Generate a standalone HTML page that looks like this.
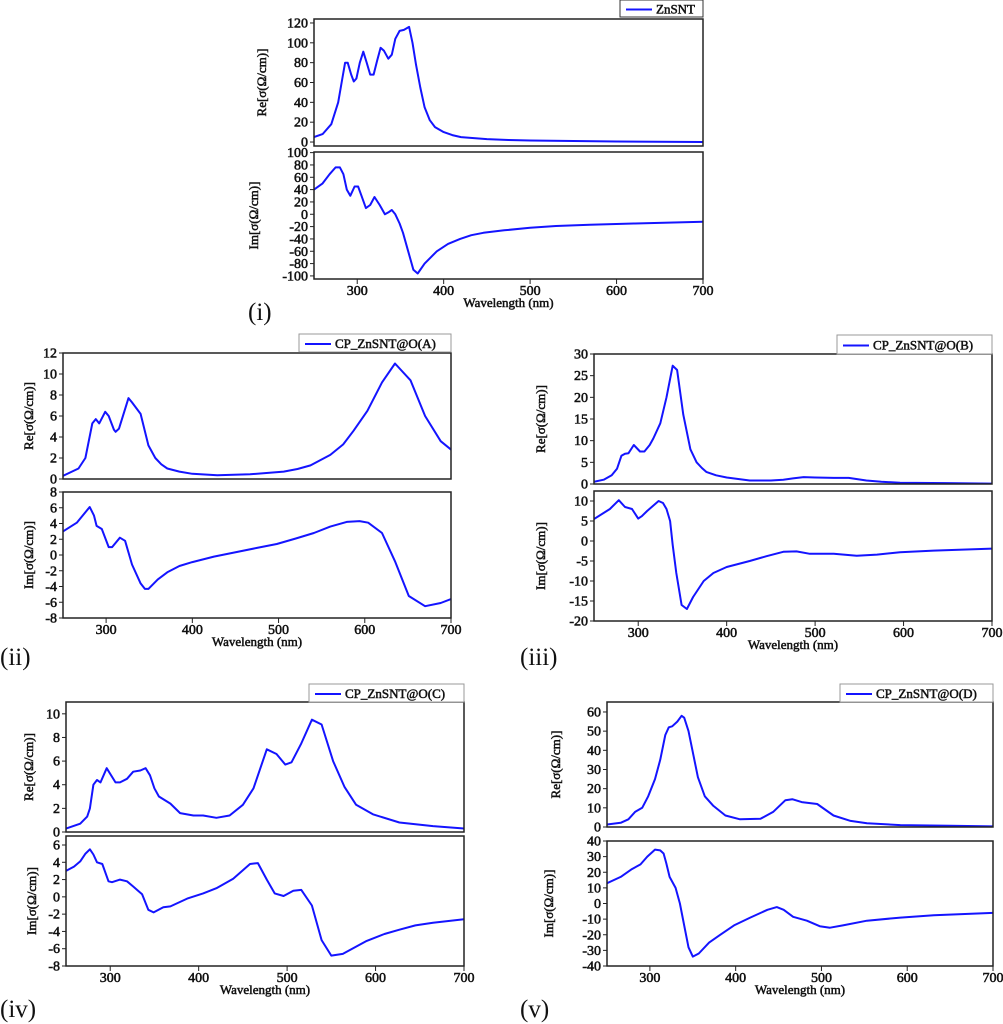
<!DOCTYPE html>
<html><head><meta charset="utf-8">
<style>
html,body{margin:0;padding:0;background:#fff;}
svg{display:block;}
svg text{font-family:"Liberation Serif","DejaVu Serif",serif;}
.tk{font-family:"Liberation Serif","DejaVu Serif",serif;font-weight:normal;font-size:14px;fill:#111;stroke:#111;stroke-width:0.55px;}
.ttl{font-family:"Liberation Serif","DejaVu Serif",serif;font-weight:normal;font-size:13px;fill:#111;stroke:#111;stroke-width:0.5px;}
.pl{font-family:"Liberation Serif","DejaVu Serif",serif;font-size:25px;fill:#111;}
</style></head>
<body>
<svg id="fig" width="1003" height="1024" viewBox="0 0 1003 1024"></svg>
<script>
// ---- data (wavelength nm, conductivity) ----
const wl_i_re=[250,260,270,278,283,286,289,293,296,299,303,307,311,315,319,323,327,331,336,340,344,349,354,360,364,368,373,378,384,390,400,410,420,435,450,475,500,550,600,700];
const val_i_re=[5,8,18,40,65,80,80,68,61,64,80,91,80,68,68,82,95,92,84,88,104,112,113,116,100,78,55,35,22,15,10,7,5,4,3,2,1.5,1,0.5,0];
const wl_i_im=[250,260,268,275,280,284,288,292,297,301,305,310,315,320,326,332,336,340,344,349,353,359,365,370,378,385,392,405,419,432,446,470,500,530,569,620,700];
const val_i_im=[40,50,65,76,76,65,40,30,45,45,30,10,15,28,15,0,3,7,0,-15,-30,-60,-90,-96,-80,-70,-60,-48,-40,-34,-30,-26,-22,-19,-17,-15,-12];
const wl_ii_re=[250,268,276,284,288,292,299,303,309,311,315,326,330,340,349,357,364,371,385,400,429,467,506,522,537,560,575,587,603,620,635,653,670,688,700];
const val_ii_re=[0.3,1,2,5.3,5.7,5.3,6.4,6,4.7,4.5,4.8,7.7,7.3,6.2,3.2,2,1.4,1,0.7,0.5,0.35,0.45,0.7,0.95,1.3,2.3,3.3,4.6,6.5,9.2,11,9.4,6,3.6,2.8];
const wl_ii_im=[250,266,281,286,289,295,303,307,316,322,330,340,345,349,360,371,385,400,425,448,475,498,520,541,560,579,594,604,620,635,651,670,688,700];
const val_ii_im=[3,4.1,6.1,5,3.7,3.3,1,1,2.2,1.8,-1.2,-3.6,-4.3,-4.3,-3.1,-2.2,-1.4,-0.9,-0.2,0.3,0.9,1.4,2.1,2.8,3.6,4.2,4.3,4.1,2.8,-0.8,-5.2,-6.5,-6.1,-5.6];
const wl_iii_re=[250,261,270,276,281,285,289,295,302,307,313,317,325,332,339,344,351,359,366,372,377,388,400,426,450,464,475,487,500,521,538,558,575,596,650,700];
const val_iii_re=[0.5,1,2,3.5,6.5,7,7.1,9,7.5,7.5,9,10.5,14,20,27.3,26.3,16,8,5,3.7,2.8,2,1.5,0.8,0.8,1,1.3,1.6,1.5,1.4,1.4,0.8,0.5,0.3,0.2,0.1];
const wl_iii_im=[250,268,278,285,293,300,304,310,323,328,332,336,339,343,349,355,362,374,385,400,426,445,464,479,494,521,547,570,596,634,700];
const val_iii_im=[5.5,8,10.2,8.5,8,5.6,6.2,7.5,10,9.5,8,5,-1,-8,-16,-17,-14,-10,-8,-6.5,-5,-3.8,-2.7,-2.6,-3.2,-3.2,-3.7,-3.4,-2.8,-2.4,-1.9];
const wl_iv_re=[250,266,274,277,281,285,289,296,306,311,319,326,334,340,345,350,355,368,379,394,405,420,435,450,462,477,488,498,505,516,528,539,552,565,578,597,627,665,700];
const val_iv_re=[0.3,0.7,1.3,2,4,4.4,4.2,5.4,4.2,4.2,4.5,5.1,5.2,5.4,4.8,3.7,3,2.4,1.6,1.4,1.4,1.2,1.4,2.3,3.7,7,6.6,5.7,5.9,7.5,9.5,9.1,6,3.8,2.3,1.5,0.8,0.5,0.3];
const wl_iv_im=[250,259,266,272,277,281,285,291,298,302,311,319,326,336,343,349,360,368,387,405,420,439,458,467,477,486,496,507,516,528,539,550,563,590,610,627,645,665,700];
const val_iv_im=[3,3.5,4.1,5,5.5,4.9,4,3.8,1.8,1.7,2,1.8,1.2,0.3,-1.5,-1.8,-1.2,-1.1,-0.2,0.4,1,2.1,3.8,3.9,2,0.4,0.1,0.7,0.8,-1,-5,-6.8,-6.6,-5.1,-4.3,-3.8,-3.3,-3,-2.6];
const wl_v_re=[250,266,275,283,291,298,306,312,318,322,326,332,337,340,345,351,356,364,374,388,405,429,444,458,466,477,495,514,534,553,592,650,700];
const val_v_re=[1.3,2.2,4,8,10,16,25,35,48,52,52.5,55,58,57,50,37,26,16,11,6,4,4.3,8,14,14.5,13,12,6,3.2,2,1,0.6,0.3];
const wl_v_im=[250,266,279,289,297,306,312,316,319,323,330,335,341,345,350,357,369,382,398,417,437,448,456,467,483,498,510,525,553,592,631,700];
const val_v_im=[13,17,22,25,30,34.5,34,32,26,17,10,0,-17,-28,-34,-32,-25,-20,-14,-9,-4,-2.3,-4,-8.5,-11,-14.5,-15.5,-14,-11,-9,-7.5,-6];
const xTicks=[300,400,500,600,700];
const yt_i_re=[0,20,40,60,80,100,120], yt_i_im=[-100,-80,-60,-40,-20,0,20,40,60,80,100];
const yt_ii_re=[0,2,4,6,8,10,12], yt_ii_im=[-8,-6,-4,-2,0,2,4,6,8];
const yt_iii_re=[0,5,10,15,20,25,30], yt_iii_im=[-20,-15,-10,-5,0,5,10];
const yt_iv_re=[0,2,4,6,8,10], yt_iv_im=[-8,-6,-4,-2,0,2,4,6];
const yt_v_re=[0,10,20,30,40,50,60], yt_v_im=[-40,-30,-20,-10,0,10,20,30,40];

// ---- layout ----
const NS="http://www.w3.org/2000/svg";
const svg=document.getElementById('fig');
function mk(tag,attrs,parent){const e=document.createElementNS(NS,tag);for(const k in attrs)e.setAttribute(k,attrs[k]);(parent||svg).appendChild(e);return e;}
const panels=[
 {id:'i',x0:314,x1:703,legend:'ZnSNT',lg:[620,0,83,17],lab:[248,320],re:{y0:19,y1:146,min:-4,max:124,wl:wl_i_re,v:val_i_re,t:yt_i_re,tx:266},im:{y0:152,y1:279,min:-105,max:101,wl:wl_i_im,v:val_i_im,t:yt_i_im,tx:258}},
 {id:'ii',x0:63,x1:451,legend:'CP_ZnSNT@O(A)',lg:[299,334,152,18],lab:[0,665],re:{y0:353,y1:479,min:0,max:12,wl:wl_ii_re,v:val_ii_re,t:yt_ii_re,tx:33},im:{y0:492,y1:618,min:-8,max:8,wl:wl_ii_im,v:val_ii_im,t:yt_ii_im,tx:33}},
 {id:'iii',x0:594,x1:992,legend:'CP_ZnSNT@O(B)',lg:[837,335,155,19],lab:[520,665],re:{y0:354,y1:484,min:0,max:30,wl:wl_iii_re,v:val_iii_re,t:yt_iii_re,tx:545},im:{y0:491,y1:621,min:-20,max:12.5,wl:wl_iii_im,v:val_iii_im,t:yt_iii_im,tx:545}},
 {id:'iv',x0:66,x1:464,legend:'CP_ZnSNT@O(C)',lg:[309,684,155,18],lab:[0,1017],re:{y0:702,y1:832,min:0,max:11,wl:wl_iv_re,v:val_iv_re,t:yt_iv_re,tx:33},im:{y0:836,y1:966,min:-8,max:7.04,wl:wl_iv_im,v:val_iv_im,t:yt_iv_im,tx:36}},
 {id:'v',x0:607,x1:993,legend:'CP_ZnSNT@O(D)',lg:[840,684,153,18],lab:[520,1017],re:{y0:702,y1:827,min:0,max:65.2,wl:wl_v_re,v:val_v_re,t:yt_v_re,tx:560},im:{y0:841,y1:966,min:-40,max:40,wl:wl_v_im,v:val_v_im,t:yt_v_im,tx:553}}
];
panels.forEach(p=>{
  const g=mk('g',{});
  
  
  const xs=w=>p.x0+(w-250)/(700-250)*(p.x1-p.x0);
  ['re','im'].forEach(k=>{
    const s=p[k];
    const ys=v=>s.y1-(v-s.min)/(s.max-s.min)*(s.y1-s.y0);
    const sg=mk('g',{},g);
    
    
    const cp='cp'+p.id+k;
    const c=mk('clipPath',{id:cp},sg);mk('rect',{x:p.x0,y:s.y0,width:p.x1-p.x0,height:s.y1-s.y0},c);
    let d='';s.wl.forEach((w,i)=>{d+=(i?'L':'M')+xs(w).toFixed(1)+','+ys(s.v[i]).toFixed(1);});
    const path=mk('path',{d:d,fill:'none',stroke:'#1414ff','stroke-width':2,'stroke-linejoin':'round','clip-path':'url(#'+cp+')'},sg);
    
    
    const fr=mk('rect',{x:p.x0,y:s.y0,width:p.x1-p.x0,height:s.y1-s.y0,fill:'none',stroke:'#222','stroke-width':1.5},sg);
    
    
    s.t.forEach(t=>{
      const y=ys(t);
      mk('line',{x1:p.x0-4,x2:p.x0,y1:y,y2:y,stroke:'#222','stroke-width':1},sg);
      const tl=mk('text',{x:p.x0-6,y:y+4.5,'text-anchor':'end',class:'tk'},sg);tl.textContent=t;
      
      
    });
    const cy=(s.y0+s.y1)/2;
    const at=mk('text',{x:s.tx,y:cy,transform:'rotate(-90 '+s.tx+' '+cy+')','text-anchor':'middle',class:'ttl'},sg);
    at.textContent=(k==='re'?'Re':'Im')+'[σ(Ω/cm)]';
    
    
    if(k==='im'){
      xTicks.forEach(t=>{
        const x=xs(t);
        mk('line',{x1:x,x2:x,y1:s.y1,y2:s.y1+5,stroke:'#222','stroke-width':1},sg);
        const tl=mk('text',{x:x,y:s.y1+16,'text-anchor':'middle',class:'tk'},sg);tl.textContent=t;
        
        
      });
      const xt=mk('text',{x:(p.x0+p.x1)/2,y:s.y1+28,'text-anchor':'middle',class:'ttl'},sg);
      xt.textContent='Wavelength (nm)';
      
      
    }
  });
  const [lx,ly,lw,lh]=p.lg;
  const lgg=mk('g',{},g);
  
  
  mk('rect',{x:lx,y:ly,width:lw,height:lh,fill:'#fff',stroke:p.id==='i'?'#333':'#999','stroke-width':1},lgg);
  mk('line',{x1:lx+6,x2:lx+32,y1:ly+lh/2+1,y2:ly+lh/2+1,stroke:'#1414ff','stroke-width':2},lgg);
  const lt=mk('text',{x:lx+36,y:ly+lh/2+5,class:'ttl'},lgg);lt.textContent=p.legend;
  const pl=mk('text',{x:p.lab[0],y:p.lab[1],class:'pl'},g);pl.textContent='('+p.id+')';
  
  
});
</script>
</body></html>
